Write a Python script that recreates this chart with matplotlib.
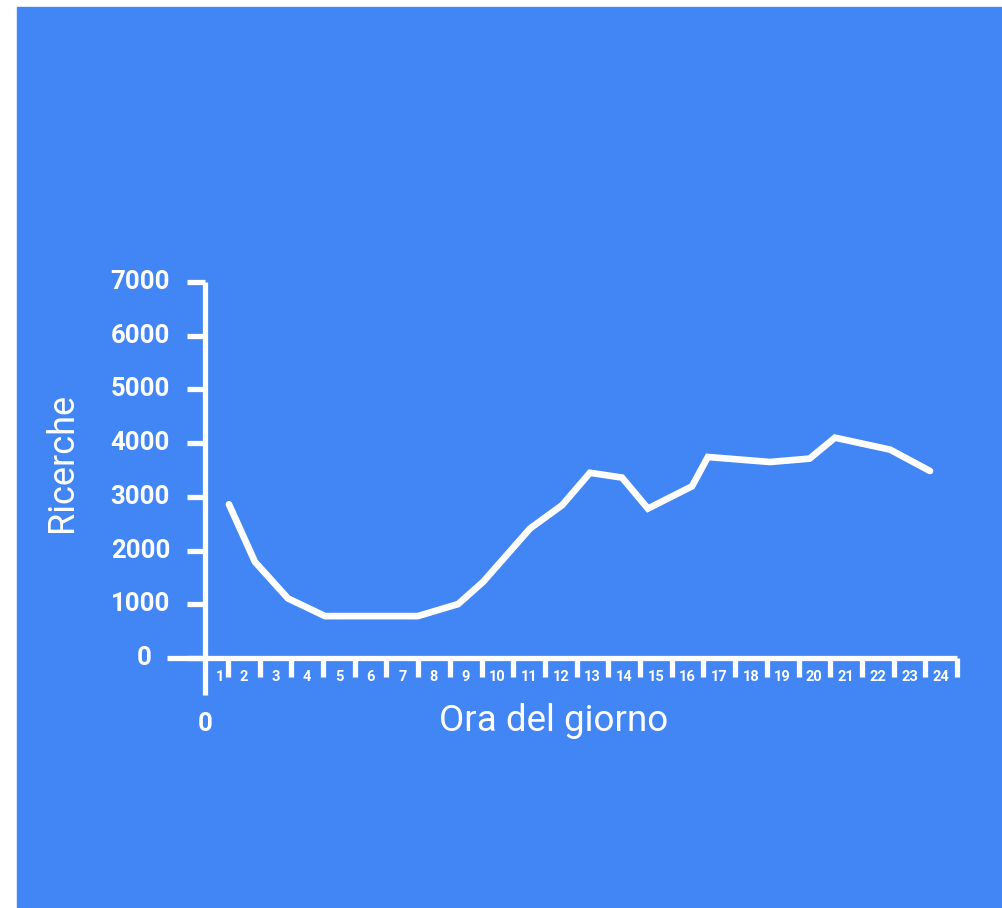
import matplotlib
matplotlib.use("Agg")
import matplotlib.pyplot as plt
from matplotlib.patches import Rectangle

# ---- data ----
hours = [1.03, 1.85, 2.89, 4.06, 6.99, 8.26, 9.05, 10.53, 11.54, 12.42,
         13.43, 14.25, 15.64, 16.14, 18.1, 19.35, 20.15, 21.89, 23.15]
searches = [2862, 1790, 1110, 780, 780, 1004, 1418, 2411, 2844, 3448,
            3359, 2782, 3197, 3742, 3649, 3712, 4102, 3879, 3481]
y_ticks = [0, 1000, 2000, 3000, 4000, 5000, 6000, 7000]
x_ticks = list(range(1, 25))
x_label = "Ora del giorno"
y_label = "Ricerche"
origin_label = "0"

BLUE = "#4285F4"
WHITE = "#FFFFFF"
W, H = 1003, 908

plt.rcParams['font.family'] = ['Roboto', 'DejaVu Sans']

fig = plt.figure(figsize=(W / 100, H / 100), dpi=100, facecolor="white")
fig.add_artist(Rectangle((17 / W, 0), 1 - 17 / W, 1 - 7 / H,
                         transform=fig.transFigure, color=BLUE, zorder=0))

# axes box: x px 205..957, y px 282..658
ax = fig.add_axes([205 / W, 1 - 658 / H, 752 / W, 376 / H])
ax.set_facecolor("none")
for s in ax.spines.values():
    s.set_visible(False)

step = (957 - 228) / 23.0
x0 = 1 - 23 / step
ax.set_xlim(x0, 24)
ax.set_ylim(0, 7000)
px_per_unit_y = 376 / 7000.0

lw_axis = 3.8
# axis lines
ax.plot([x0, x0], [-(695 - 658) / px_per_unit_y, 7000], color=WHITE,
        lw=lw_axis, clip_on=False, solid_capstyle='butt', zorder=3)
ax.plot([x0 - (205 - 167) / step, 24], [0, 0], color=WHITE,
        lw=lw_axis, clip_on=False, solid_capstyle='butt', zorder=3)

# ticks
ax.set_yticks(y_ticks)
ax.set_xticks(x_ticks)
ax.tick_params(axis='y', direction='out', length=13, width=3.8, color=WHITE,
               labelleft=False)
ax.tick_params(axis='x', direction='out', length=14, width=3.8, color=WHITE,
               labelbottom=False)

# y tick labels
for v in y_ticks:
    xpos = 1 + (170 - 228) / step if v != 0 else 1 + (152 - 228) / step
    ax.text(xpos, v, f"{v}", color=WHITE, fontsize=18.5, fontweight='bold',
            ha='right', va='center', clip_on=False)

# x tick labels
ylab = -(677 - 658) / px_per_unit_y
for k in x_ticks:
    xpos = k - 0.5 if k > 1 else (x0 + 1) / 2 + 0.12
    ax.text(xpos, ylab, str(k), color=WHITE, fontsize=10.5, fontweight='bold',
            ha='center', va='center', clip_on=False)

ax.text(x0, -(724 - 658) / px_per_unit_y, origin_label, color=WHITE,
        fontsize=18.5, fontweight='bold', ha='center', va='center', clip_on=False)

# data line
ax.plot(hours, searches, color=WHITE, lw=4.8, solid_capstyle='round',
        solid_joinstyle='miter', clip_on=False, zorder=4)

fig.text(554 / W, 1 - 721 / H, x_label, color=WHITE, fontsize=26.5,
         ha='center', va='center')
fig.text(62 / W, 1 - 462 / H, y_label, color=WHITE, fontsize=26,
         ha='center', va='center', rotation=90)

fig.savefig("out.png", dpi=100, facecolor="white")
